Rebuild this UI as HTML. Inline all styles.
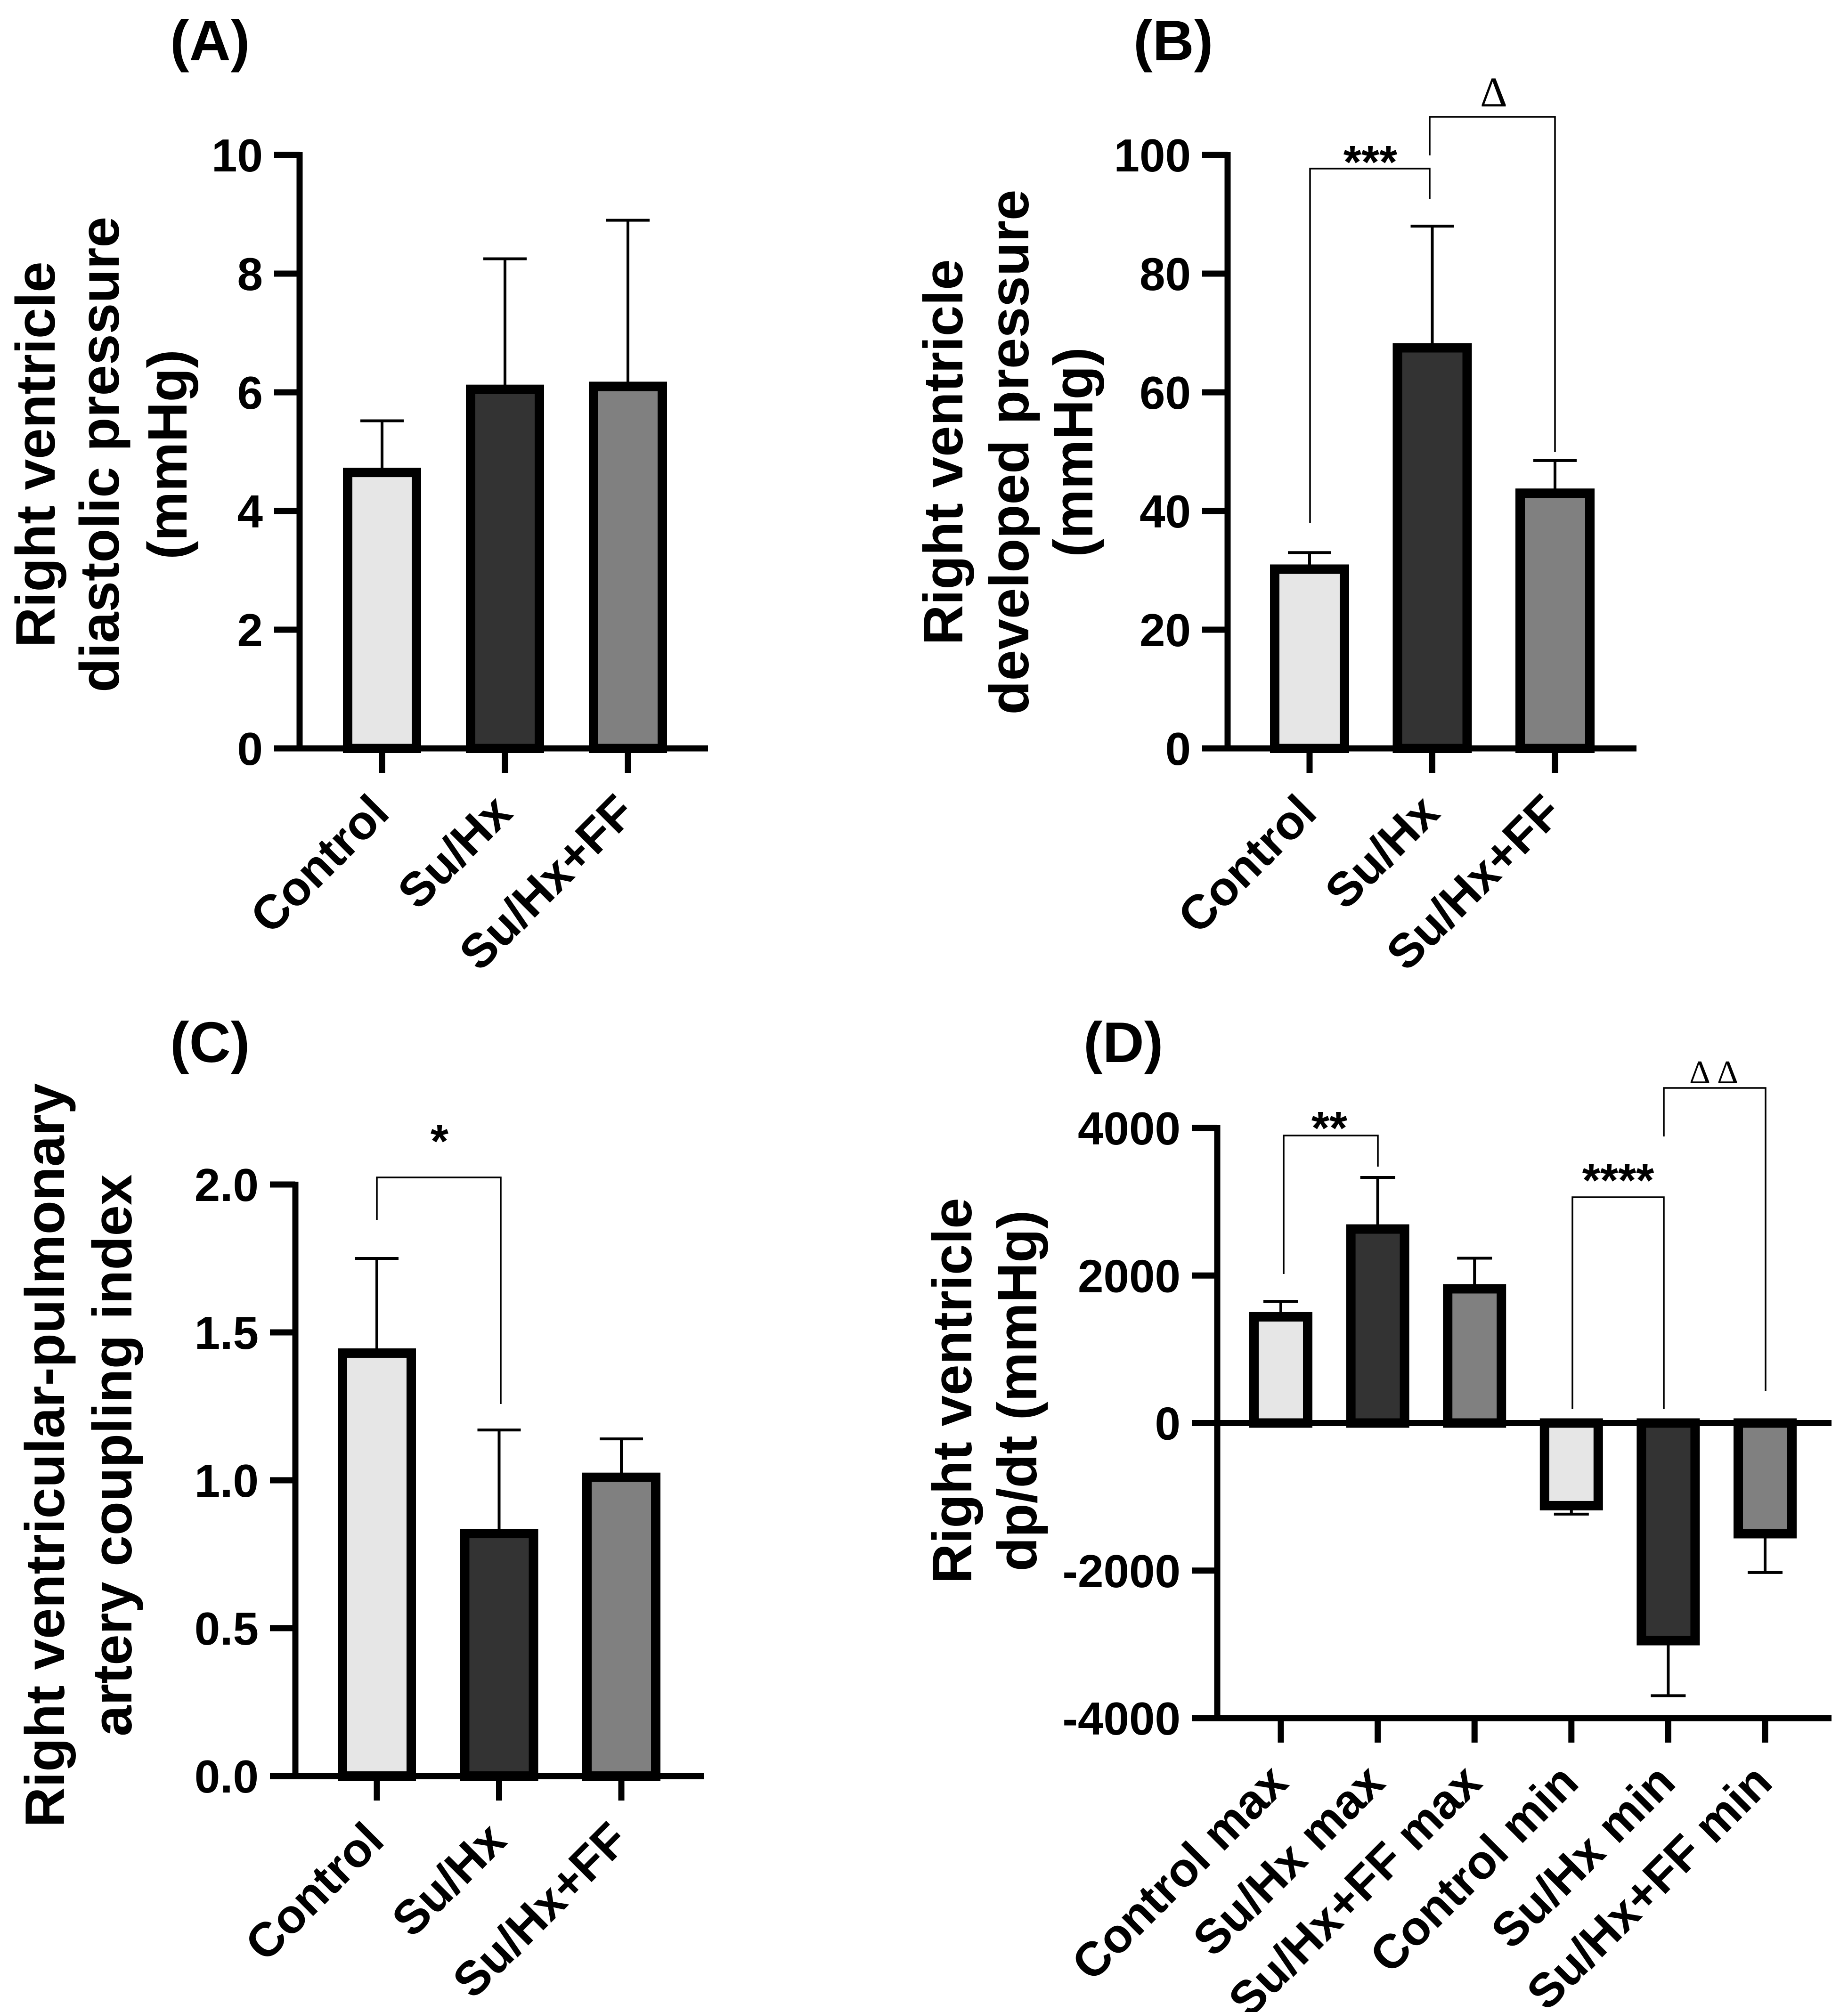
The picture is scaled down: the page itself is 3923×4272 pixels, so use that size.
<!DOCTYPE html>
<html><head><meta charset="utf-8">
<style>
html,body{margin:0;padding:0;background:#fff;}
svg{display:block;}
text{font-family:"Liberation Sans",Arial,sans-serif;font-weight:bold;fill:#000;}
.serif{font-family:"Liberation Serif",serif;font-weight:normal;}
</style></head>
<body>
<svg id="fig" xmlns="http://www.w3.org/2000/svg" width="3923" height="4272" viewBox="0 0 3923 4272"></svg>
<script>
// ---- Data ----
const abcCategories = ["Control", "Su/Hx", "Su/Hx+FF"];
const dCategories = ["Control max", "Su/Hx max", "Su/Hx+FF max", "Control min", "Su/Hx min", "Su/Hx+FF min"];
const aMeans = [4.65, 6.05, 6.1];
const aErrors = [5.52, 8.25, 8.9];
const aTicks = [0, 2, 4, 6, 8, 10];
const aTickLabels = ["0", "2", "4", "6", "8", "10"];
const bMeans = [30.2, 67.5, 43];
const bErrors = [33, 88, 48.5];
const bTicks = [0, 20, 40, 60, 80, 100];
const bTickLabels = ["0", "20", "40", "60", "80", "100"];
const cMeans = [1.43, 0.82, 1.01];
const cErrors = [1.75, 1.17, 1.14];
const cTicks = [0, 0.5, 1.0, 1.5, 2.0];
const cTickLabels = ["0.0", "0.5", "1.0", "1.5", "2.0"];
const dMeans = [1440, 2630, 1820, -1120, -2950, -1500];
const dErrors = [1650, 3330, 2235, -1235, -3696, -2026];
const dTicks = [-4000, -2000, 0, 2000, 4000];
const dTickLabels = ["-4000", "-2000", "0", "2000", "4000"];
const fills = ["#e6e6e6", "#333333", "#808080"];
const dFills = ["#e6e6e6", "#333333", "#808080", "#e6e6e6", "#333333", "#808080"];

const svg = document.getElementById('fig');
const NS = 'http://www.w3.org/2000/svg';
function mk(tag, attrs, parent) {
  const e = document.createElementNS(NS, tag);
  for (const k in attrs) e.setAttribute(k, attrs[k]);
  (parent || svg).appendChild(e);
  return e;
}
function txt(str, attrs, parent) {
  const t = mk('text', attrs, parent);
  t.textContent = str;
  return t;
}

function drawPanel(p) {
  const g = mk('g', {});
  
  
  const ys = v => p.yTop + (p.vmax - v) / (p.vmax - p.vmin) * (p.yBot - p.yTop);
  const xc = i => p.first + i * p.step;
  const pl = txt(p.label, {x: p.labelX, y: p.labelY, 'font-size': 122}, g);
  
  
  p.title.forEach((line, i) => {
    const t = txt(line, {x: 0, y: 0, 'font-size': 118, 'text-anchor': 'middle',
      transform: `translate(${p.titleX[i]},${p.titleY}) rotate(-90)`}, g);
    
    
  });
  p.means.forEach((m, i) => {
    const cx = xc(i);
    const y0 = ys(0), y1 = ys(m);
    const ye = ys(p.errs[i]);
    const eb = mk('line', {x1: cx, x2: cx, y1: y1, y2: ye, stroke: '#000', 'stroke-width': 6}, g);
    
    
    const cap = mk('line', {x1: cx - p.capW / 2, x2: cx + p.capW / 2, y1: ye, y2: ye, stroke: '#000', 'stroke-width': 6}, g);
    
    
    const r = mk('rect', {x: cx - p.barW / 2, y: Math.min(y0, y1), width: p.barW, height: Math.abs(y1 - y0),
      fill: p.fills[i], stroke: '#000', 'stroke-width': 20}, g);
    
    
  });
  const ya = mk('line', {x1: p.axisX, x2: p.axisX, y1: ys(p.vmax) - 6, y2: ys(p.vmin) + 6, stroke: '#000', 'stroke-width': 13}, g);
  
  
  p.ticks.forEach((t, i) => {
    const y = ys(t);
    const tl = mk('line', {x1: p.axisX - 54, x2: p.axisX, y1: y, y2: y, stroke: '#000', 'stroke-width': 13}, g);
    
    
    const lb = txt(p.tickLabels[i], {x: p.axisX - 78, y: y + 35, 'font-size': 98, 'text-anchor': 'end'}, g);
    
    
  });
  p.hLines.forEach(v => {
    const y = ys(v);
    const xl = mk('line', {x1: p.axisX - 54, x2: p.xEnd, y1: y, y2: y, stroke: '#000', 'stroke-width': 13}, g);
    
    
  });
  const by = ys(p.vmin);
  p.cats.forEach((c, i) => {
    const cx = xc(i);
    const tk = mk('line', {x1: cx, x2: cx, y1: by, y2: by + 52, stroke: '#000', 'stroke-width': 13}, g);
    
    
    const lb = txt(c, {x: 0, y: 0, 'font-size': 102, 'text-anchor': 'end',
      transform: `translate(${cx + 20},${by + 142}) rotate(-45)`}, g);
    
    
  });
  (p.brackets || []).forEach(b => {
    const pl2 = mk('polyline', {points: b.pts.map(q => q.join(',')).join(' '), fill: 'none', stroke: '#000', 'stroke-width': 3.5}, g);
    
    
    const st = txt(b.text, {x: b.tx, y: b.ty, 'font-size': b.fs, 'text-anchor': 'middle', 'class': b.serif ? 'serif' : ''}, g);
    
    
  });
}

drawPanel({name: 'panel-a', label: '(A)', labelX: 361, labelY: 128,
  title: ['Right ventricle', 'diastolic pressure', '(mmHg)'], titleX: [116, 252, 396], titleY: 965,
  axisX: 636, yTop: 329, yBot: 1589, vmin: 0, vmax: 10, ticks: aTicks, tickLabels: aTickLabels,
  first: 811, step: 261, barW: 146, capW: 92, xEnd: 1503, hLines: [0],
  cats: abcCategories, means: aMeans, errs: aErrors, fills: fills});

drawPanel({name: 'panel-b', label: '(B)', labelX: 2406, labelY: 128,
  title: ['Right ventricle', 'developed pressure', '(mmHg)'], titleX: [2043, 2183, 2319], titleY: 960,
  axisX: 2606, yTop: 329, yBot: 1589, vmin: 0, vmax: 100, ticks: bTicks, tickLabels: bTickLabels,
  first: 2780, step: 260.5, barW: 148, capW: 92, xEnd: 3474, hLines: [0],
  cats: abcCategories, means: bMeans, errs: bErrors, fills: fills,
  brackets: [
    {pts: [[2781, 1110], [2781, 358], [3035, 358], [3035, 422]], text: '***', tx: 2909, ty: 378, fs: 98},
    {pts: [[3035, 330], [3035, 248], [3301, 248], [3301, 960]], text: '\u0394', tx: 3171, ty: 226, fs: 90, serif: true}
  ]});

drawPanel({name: 'panel-c', label: '(C)', labelX: 361, labelY: 2255,
  title: ['Right ventricular-pulmonary', 'artery coupling index'], titleX: [136, 279], titleY: 3090,
  axisX: 627, yTop: 2515, yBot: 3771, vmin: 0, vmax: 2, ticks: cTicks, tickLabels: cTickLabels,
  first: 800, step: 259.5, barW: 146, capW: 92, xEnd: 1495, hLines: [0],
  cats: abcCategories, means: cMeans, errs: cErrors, fills: fills,
  brackets: [
    {pts: [[800, 2590], [800, 2500], [1063, 2500], [1063, 2981]], text: '*', tx: 933, ty: 2457, fs: 98}
  ]});

drawPanel({name: 'panel-d', label: '(D)', labelX: 2300, labelY: 2255,
  title: ['Right ventricle', 'dp/dt (mmHg)'], titleX: [2062, 2200], titleY: 2953,
  axisX: 2584, yTop: 2395, yBot: 3648, vmin: -4000, vmax: 4000, ticks: dTicks, tickLabels: dTickLabels,
  first: 2719, step: 205.6, barW: 114, capW: 74, xEnd: 3888, hLines: [0, -4000],
  cats: dCategories, means: dMeans, errs: dErrors, fills: dFills,
  brackets: [
    {pts: [[2725, 2705], [2725, 2411], [2925, 2411], [2925, 2477]], text: '**', tx: 2822, ty: 2429, fs: 98},
    {pts: [[3338, 2992], [3338, 2542], [3532, 2542], [3532, 2992]], text: '****', tx: 3435, ty: 2540, fs: 98},
    {pts: [[3532, 2413], [3532, 2310], [3748, 2310], [3748, 2953]], text: '\u0394\u2009\u0394', tx: 3638, ty: 2300, fs: 70, serif: true}
  ]});
</script>
</body></html>
